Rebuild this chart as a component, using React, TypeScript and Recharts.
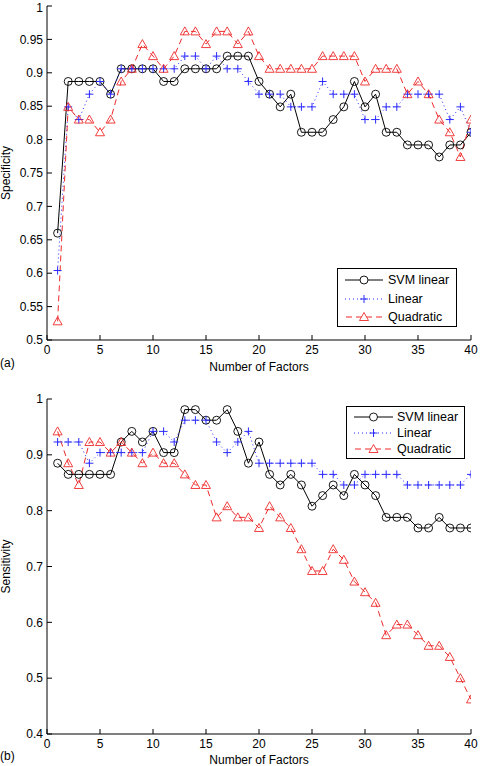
import React from 'react';
import { LineChart, Line, XAxis, YAxis } from 'recharts';

const factors = [1,2,3,4,5,6,7,8,9,10,11,12,13,14,15,16,17,18,19,20,21,22,23,24,25,26,27,28,29,30,31,32,33,34,35,36,37,38,39,40];

const specSvm = [0.660,0.887,0.887,0.887,0.887,0.868,0.906,0.906,0.906,0.906,0.887,0.887,0.906,0.906,0.906,0.906,0.925,0.925,0.925,0.887,0.868,0.849,0.868,0.811,0.811,0.811,0.830,0.849,0.887,0.849,0.868,0.811,0.811,0.792,0.792,0.792,0.774,0.792,0.792,0.811];
const specLin = [0.604,0.849,0.830,0.868,0.887,0.868,0.906,0.906,0.906,0.906,0.906,0.906,0.925,0.925,0.906,0.925,0.906,0.906,0.887,0.868,0.868,0.868,0.849,0.849,0.849,0.887,0.868,0.868,0.868,0.830,0.830,0.849,0.849,0.868,0.868,0.868,0.868,0.830,0.849,0.811];
const specQuad = [0.528,0.849,0.830,0.830,0.811,0.830,0.887,0.906,0.943,0.925,0.906,0.925,0.962,0.962,0.943,0.962,0.962,0.943,0.962,0.925,0.906,0.906,0.906,0.906,0.906,0.925,0.925,0.925,0.925,0.887,0.906,0.906,0.906,0.868,0.887,0.868,0.830,0.811,0.774,0.830];

const sensSvm = [0.885,0.865,0.865,0.865,0.865,0.865,0.923,0.942,0.923,0.942,0.904,0.904,0.981,0.981,0.962,0.962,0.981,0.942,0.885,0.923,0.865,0.846,0.865,0.846,0.808,0.827,0.846,0.827,0.865,0.846,0.827,0.788,0.788,0.788,0.769,0.769,0.788,0.769,0.769,0.769];
const sensLin = [0.923,0.923,0.923,0.885,0.904,0.904,0.904,0.904,0.904,0.942,0.942,0.923,0.962,0.962,0.962,0.923,0.904,0.923,0.942,0.885,0.885,0.885,0.885,0.885,0.885,0.865,0.865,0.846,0.846,0.865,0.865,0.865,0.865,0.846,0.846,0.846,0.846,0.846,0.846,0.865];
const sensQuad = [0.942,0.885,0.846,0.923,0.923,0.904,0.923,0.904,0.885,0.904,0.885,0.885,0.865,0.846,0.846,0.788,0.808,0.788,0.788,0.769,0.808,0.788,0.769,0.731,0.692,0.692,0.731,0.712,0.673,0.654,0.635,0.577,0.596,0.596,0.577,0.558,0.558,0.538,0.500,0.462];

const xTicks = [0,5,10,15,20,25,30,35,40];
const specTicks = [0.5,0.55,0.6,0.65,0.7,0.75,0.8,0.85,0.9,0.95,1];
const sensTicks = [0.4,0.5,0.6,0.7,0.8,0.9,1];
const seriesNames = ['SVM linear', 'Linear', 'Quadratic'];

const FONT = '"Liberation Sans", Arial, Helvetica, sans-serif';
const BLACK = '#000000';
const BLUE = '#2a2aff';
const RED = '#ee2a2a';

const specData = factors.map((x, i) => ({ x, svm: specSvm[i], lin: specLin[i], quad: specQuad[i] }));
const sensData = factors.map((x, i) => ({ x, svm: sensSvm[i], lin: sensLin[i], quad: sensQuad[i] }));

const CircleMark = (p: any) => {
  if (p.cx == null || p.cy == null) return <g key={p.key ?? p.index} />;
  return <circle key={p.key ?? p.index} cx={p.cx} cy={p.cy} r={4} fill="none" stroke={BLACK} strokeWidth={0.9} />;
};
const PlusMark = (p: any) => {
  if (p.cx == null || p.cy == null) return <g key={p.key ?? p.index} />;
  const { cx, cy } = p;
  return (
    <path key={p.key ?? p.index} d={`M${cx - 4},${cy}H${cx + 4}M${cx},${cy - 4}V${cy + 4}`} stroke={BLUE} strokeWidth={1} fill="none" />
  );
};
const TriMark = (p: any) => {
  if (p.cx == null || p.cy == null) return <g key={p.key ?? p.index} />;
  const { cx, cy } = p;
  return (
    <path key={p.key ?? p.index} d={`M${cx},${cy - 4.5}L${cx + 4.5},${cy + 3.5}L${cx - 4.5},${cy + 3.5}Z`} stroke={RED} strokeWidth={0.9} fill="none" />
  );
};

const LegendBox = ({ left, top, w, h, rowGap, padTop, padLeft, sampleW, textGap }: any) => (
  <div
    style={{
      position: 'absolute',
      left,
      top,
      width: w,
      height: h,
      boxSizing: 'border-box',
      border: '1px solid #000',
      background: '#fff',
      padding: `${padTop}px 0 0 ${padLeft}px`,
      fontFamily: FONT,
      fontSize: 12.5,
      color: '#000',
      whiteSpace: 'nowrap',
    }}
  >
    {seriesNames.map((name, i) => (
      <div key={name} style={{ display: 'flex', alignItems: 'center', height: rowGap }}>
        <svg width={sampleW} height={12} style={{ display: 'block', marginRight: textGap, flex: 'none' }}>
          {i === 0 && (
            <g>
              <line x1={0} y1={6} x2={sampleW} y2={6} stroke={BLACK} strokeWidth={1} />
              <circle cx={sampleW / 2} cy={6} r={4} fill="#fff" stroke={BLACK} strokeWidth={0.9} />
            </g>
          )}
          {i === 1 && (
            <g>
              <line x1={0} y1={6} x2={sampleW} y2={6} stroke={BLUE} strokeWidth={1} strokeDasharray="1 3" />
              <path d={`M${sampleW / 2 - 4},6H${sampleW / 2 + 4}M${sampleW / 2},2V10`} stroke={BLUE} strokeWidth={1} />
            </g>
          )}
          {i === 2 && (
            <g>
              <line x1={0} y1={6} x2={sampleW} y2={6} stroke={RED} strokeWidth={1} strokeDasharray="6 4" strokeDashoffset={-1} />
              <path d={`M${sampleW / 2},1.5L${sampleW / 2 + 4.5},9.5L${sampleW / 2 - 4.5},9.5Z`} fill="#fff" stroke={RED} strokeWidth={0.9} />
            </g>
          )}
        </svg>
        <span style={{ lineHeight: '12px' }}>{name}</span>
      </div>
    ))}
  </div>
);

const axisStyle = { fontFamily: FONT, fontSize: 12, fill: '#000' };
const hiddenTick = () => <g />;

function Panel({ data, yTicks, yDomain, yLabel, height, marginTop, xAxisHeight, xLabelOffset }: any) {
  return (
    <LineChart
      width={480}
      height={height}
      data={data}
      margin={{ top: marginTop, right: 9, bottom: 0, left: 0 }}
      style={{ fontFamily: FONT }}
    >
      <XAxis
        dataKey="x"
        type="number"
        domain={[0, 40]}
        ticks={xTicks}
        allowDataOverflow
        height={xAxisHeight}
        tickSize={-5}
        tickMargin={10}
        tick={axisStyle}
        axisLine={{ stroke: '#000', strokeWidth: 1 }}
        tickLine={{ stroke: '#000', strokeWidth: 1 }}
        label={{ value: 'Number of Factors', position: 'insideBottom', offset: xLabelOffset, style: { ...axisStyle, textAnchor: 'middle' } }}
      />
      <XAxis
        xAxisId="top"
        orientation="top"
        dataKey="x"
        type="number"
        domain={[0, 40]}
        ticks={xTicks}
        allowDataOverflow
        height={0}
        tickSize={-5}
        tick={hiddenTick}
        axisLine={{ stroke: '#000', strokeWidth: 1 }}
        tickLine={{ stroke: '#000', strokeWidth: 1 }}
      />
      <YAxis
        type="number"
        domain={yDomain}
        ticks={yTicks}
        allowDataOverflow
        width={47}
        tickSize={-5}
        tickMargin={9}
        tick={axisStyle}
        tickFormatter={(v: number) => String(v)}
        axisLine={{ stroke: '#000', strokeWidth: 1 }}
        tickLine={{ stroke: '#000', strokeWidth: 1 }}
        label={{ value: yLabel, angle: -90, position: 'insideLeft', offset: 6, style: { ...axisStyle, textAnchor: 'middle' } }}
      />
      <YAxis
        yAxisId="right"
        orientation="right"
        type="number"
        domain={yDomain}
        ticks={yTicks}
        allowDataOverflow
        width={0}
        tickSize={-5}
        tick={hiddenTick}
        axisLine={{ stroke: '#000', strokeWidth: 1 }}
        tickLine={{ stroke: '#000', strokeWidth: 1 }}
      />
      <Line type="linear" dataKey="svm" name="SVM linear" stroke={BLACK} strokeWidth={1} dot={CircleMark} activeDot={false} isAnimationActive={false} />
      <Line type="linear" dataKey="lin" name="Linear" stroke={BLUE} strokeWidth={1} strokeDasharray="1 3" dot={PlusMark} activeDot={false} isAnimationActive={false} />
      <Line type="linear" dataKey="quad" name="Quadratic" stroke={RED} strokeWidth={1} strokeDasharray="6 4" dot={TriMark} activeDot={false} isAnimationActive={false} />
    </LineChart>
  );
}

export default function App() {
  return (
    <div style={{ position: 'absolute', left: 0, top: 0, width: 480, height: 766, background: '#fff', fontFamily: FONT }}>
      <div style={{ position: 'absolute', left: 0, top: 0 }}>
        <Panel
          data={specData}
          yTicks={specTicks}
          yDomain={[0.5, 1]}
          yLabel="Specificity"
          height={380}
          marginTop={6}
          xAxisHeight={40}
          xLabelOffset={9}
        />
      </div>
      <div style={{ position: 'absolute', left: 0, top: 380 }}>
        <Panel
          data={sensData}
          yTicks={sensTicks}
          yDomain={[0.4, 1]}
          yLabel="Sensitivity"
          height={386}
          marginTop={19}
          xAxisHeight={32}
          xLabelOffset={2}
        />
      </div>
      <LegendBox left={337} top={268} w={120} h={59} rowGap={18.5} padTop={2} padLeft={7} sampleW={38} textGap={5} />
      <LegendBox left={346} top={406} w={119} h={53} rowGap={16} padTop={2} padLeft={7} sampleW={39} textGap={4} />
      <div style={{ position: 'absolute', left: 0, top: 356, fontSize: 12, lineHeight: '14px', color: '#000' }}>(a)</div>
      <div style={{ position: 'absolute', left: 0, top: 749, fontSize: 12, lineHeight: '14px', color: '#000' }}>(b)</div>
    </div>
  );
}
